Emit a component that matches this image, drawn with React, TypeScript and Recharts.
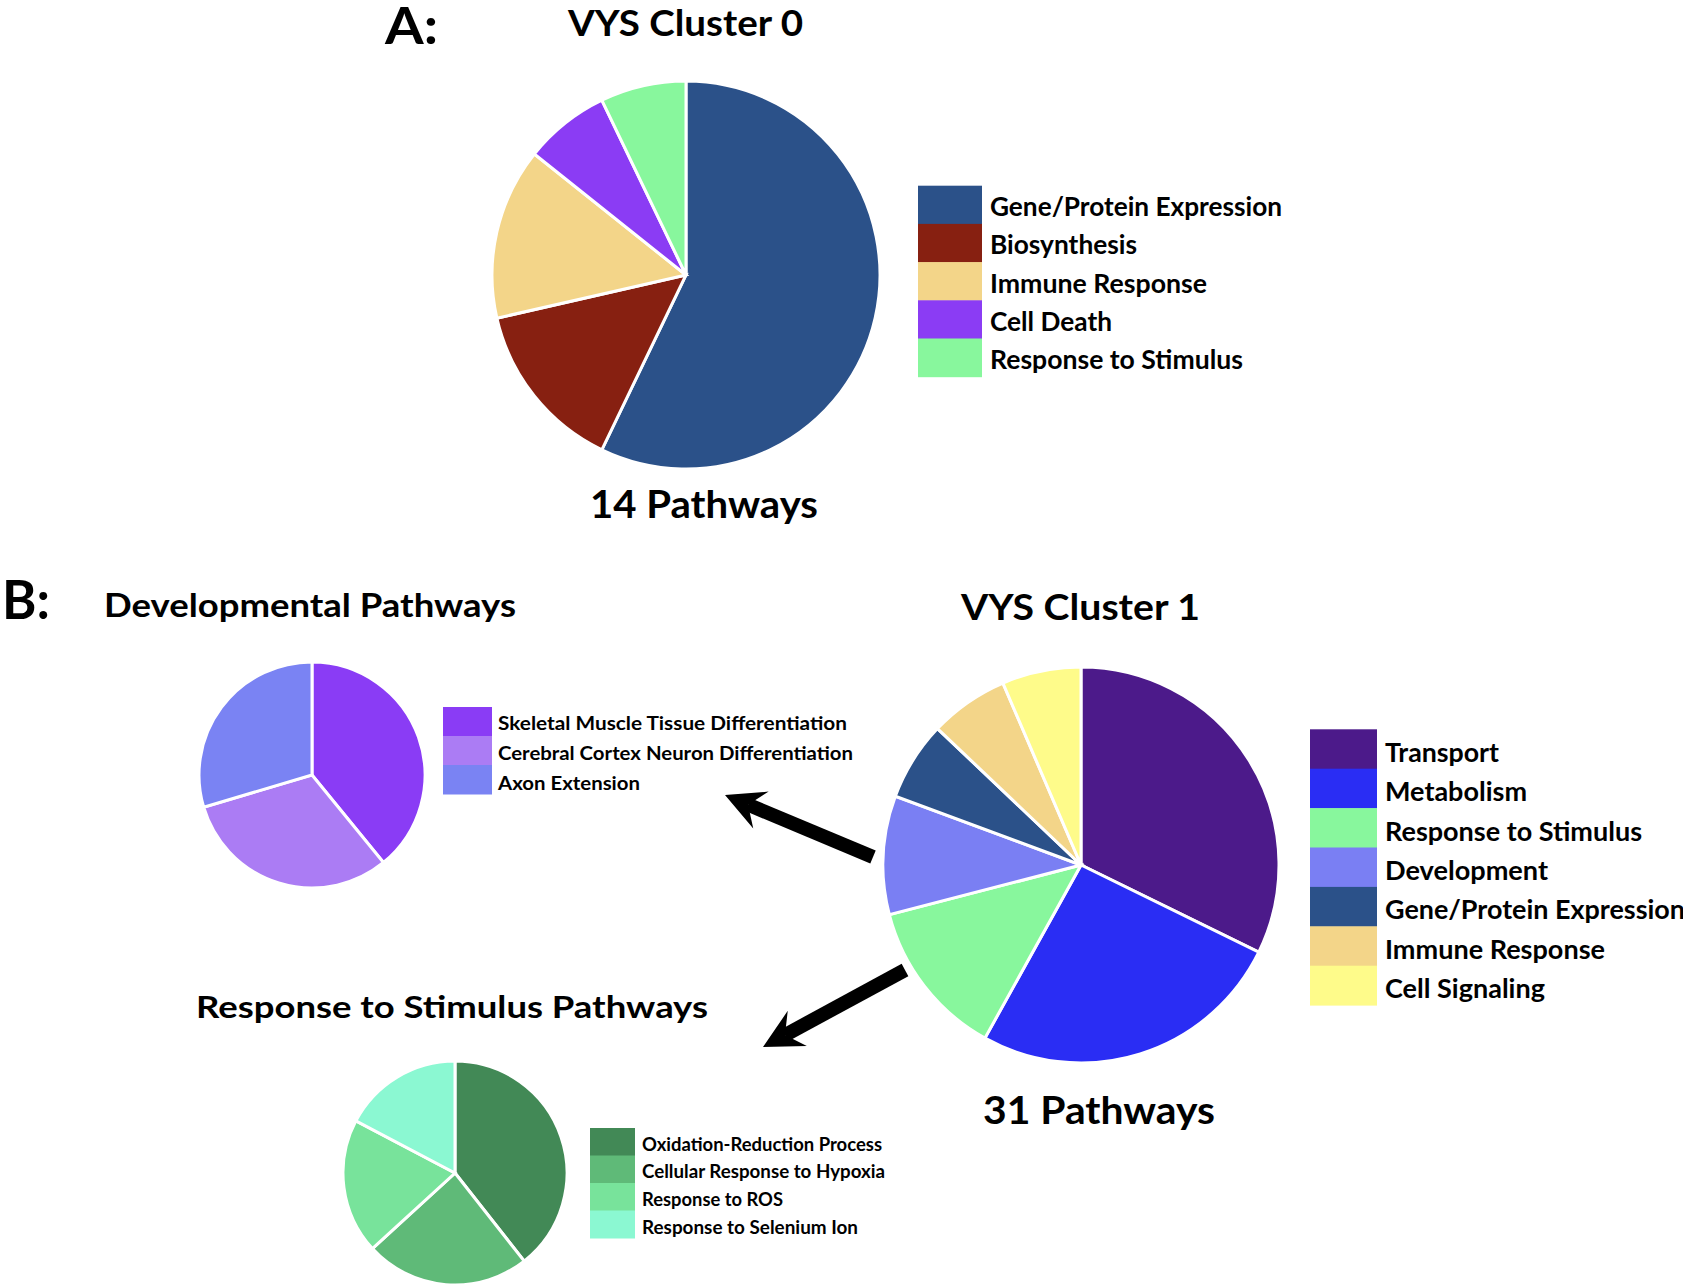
import { PieChart, Pie, Cell } from 'recharts';

// --- data ---
const clusterZeroCategories = [
  'Gene/Protein Expression',
  'Biosynthesis',
  'Immune Response',
  'Cell Death',
  'Response to Stimulus',
];
const clusterZeroCounts = [8, 2, 2, 1, 1];

const clusterOneCategories = [
  'Transport',
  'Metabolism',
  'Response to Stimulus',
  'Development',
  'Gene/Protein Expression',
  'Immune Response',
  'Cell Signaling',
];
const clusterOneCounts = [10, 8, 4, 3, 2, 2, 2];

const devCategories = [
  'Skeletal Muscle Tissue Differentiation',
  'Cerebral Cortex Neuron Differentiation',
  'Axon Extension',
];
const devShares = [39.1, 31.3, 29.6];

const stimulusCategories = [
  'Oxidation-Reduction Process',
  'Cellular Response to Hypoxia',
  'Response to ROS',
  'Response to Selenium Ion',
];
const stimulusShares = [39.4, 23.8, 19.5, 17.3];

// --- colours ---
const clusterZeroColors = ['#2B5189', '#872011', '#F3D589', '#8B3CF4', '#88F79D'];
const clusterOneColors = ['#4C1A8A', '#2A2DF4', '#88F79D', '#7A7FF3', '#2B5189', '#F3D589', '#FEFB8A'];
const devColors = ['#8A3CF5', '#AB7CF4', '#7A83F3'];
const stimulusColors = ['#428956', '#5FBA78', '#78E39B', '#8BF8D2'];

const FONT = "Lato, 'Open Sans', sans-serif";

const toRows = (names: string[], values: number[]) =>
  names.map((name, i) => ({ name, value: values[i] }));

type PieBoxProps = {
  left: number;
  top: number;
  size: number;
  radius: number;
  names: string[];
  values: number[];
  colors: string[];
};

function PieBox({ left, top, size, radius, names, values, colors }: PieBoxProps) {
  const data = toRows(names, values);
  return (
    <div style={{ position: 'absolute', left, top, width: size, height: size }}>
      <PieChart width={size} height={size} margin={{ top: 0, right: 0, bottom: 0, left: 0 }}>
        <Pie
          data={data}
          dataKey="value"
          nameKey="name"
          cx={size / 2}
          cy={size / 2}
          outerRadius={radius}
          startAngle={90}
          endAngle={-270}
          stroke="#ffffff"
          strokeWidth={3}
          isAnimationActive={false}
        >
          {data.map((d, i) => (
            <Cell key={d.name} fill={colors[i]} />
          ))}
        </Pie>
      </PieChart>
    </div>
  );
}

type Label = { x: number; y: number; size: number; width: number; text: string };

function Txt({ x, y, size, width, text }: Label) {
  return (
    <text
      x={x}
      y={y}
      fontSize={size}
      fontWeight={700}
      fontFamily={FONT}
      fill="#000"
      textLength={width}
      lengthAdjust="spacingAndGlyphs"
    >
      {text}
    </text>
  );
}

type LegendProps = {
  names: string[];
  colors: string[];
  swatchX: number;
  swatchW: number;
  top: number;
  rowH: number;
  textX: number;
  baseline: number;
  textStep: number;
  fontSize: number;
  widths: number[];
};

function BlockLegend(p: LegendProps) {
  return (
    <g>
      {p.names.map((name, i) => (
        <g key={name}>
          <rect x={p.swatchX} y={p.top + i * p.rowH} width={p.swatchW} height={p.rowH + 0.5} fill={p.colors[i]} />
          <Txt x={p.textX} y={p.baseline + i * p.textStep} size={p.fontSize} width={p.widths[i]} text={name} />
        </g>
      ))}
    </g>
  );
}

function Arrow({ tail, tip }: { tail: [number, number]; tip: [number, number] }) {
  const dx = tip[0] - tail[0];
  const dy = tip[1] - tail[1];
  const len = Math.hypot(dx, dy);
  const ux = dx / len;
  const uy = dy / len;
  const nx = -uy;
  const ny = ux;
  const headLen = 34;
  const half = 20;
  const base: [number, number] = [tip[0] - ux * headLen, tip[1] - uy * headLen];
  const notch: [number, number] = [tip[0] - ux * (headLen - 9), tip[1] - uy * (headLen - 9)];
  const pts = [
    tip,
    [base[0] + nx * half - ux * 5, base[1] + ny * half - uy * 5],
    notch,
    [base[0] - nx * half - ux * 5, base[1] - ny * half - uy * 5],
  ]
    .map((p) => p.join(','))
    .join(' ');
  return (
    <g>
      <line x1={tail[0]} y1={tail[1]} x2={notch[0]} y2={notch[1]} stroke="#000" strokeWidth={14} />
      <polygon points={pts} fill="#000" />
    </g>
  );
}

export default function App() {
  return (
    <div
      style={{
        position: 'absolute',
        left: 0,
        top: 0,
        width: 1683,
        height: 1288,
        background: '#fff',
        overflow: 'hidden',
      }}
    >
      <PieBox left={486} top={75} size={400} radius={194} names={clusterZeroCategories} values={clusterZeroCounts} colors={clusterZeroColors} />
      <PieBox left={879} top={663} size={404} radius={198} names={clusterOneCategories} values={clusterOneCounts} colors={clusterOneColors} />
      <PieBox left={196} top={659} size={232} radius={113} names={devCategories} values={devShares} colors={devColors} />
      <PieBox left={340} top={1058} size={230} radius={112} names={stimulusCategories} values={stimulusShares} colors={stimulusColors} />

      <svg width={1683} height={1288} style={{ position: 'absolute', left: 0, top: 0, pointerEvents: 'none' }}>
        {/* panel letters and titles */}
        <Txt x={385} y={44} size={52} width={53} text="A:" />
        <Txt x={568} y={36} size={36} width={235} text="VYS Cluster 0" />
        <Txt x={590} y={518} size={38} width={228} text="14 Pathways" />

        <Txt x={2} y={619} size={53} width={48} text="B:" />
        <Txt x={104} y={617} size={33} width={412} text="Developmental Pathways" />
        <Txt x={961} y={620} size={36} width={239} text="VYS Cluster 1" />
        <Txt x={196} y={1018} size={31} width={512} text="Response to Stimulus Pathways" />
        <Txt x={983} y={1124} size={38} width={232} text="31 Pathways" />

        <BlockLegend
          names={clusterZeroCategories}
          colors={clusterZeroColors}
          swatchX={918}
          swatchW={64}
          top={185.7}
          rowH={38.2}
          textX={990}
          baseline={216}
          textStep={38.3}
          fontSize={27}
          widths={[292, 147, 217, 122, 253]}
        />
        <BlockLegend
          names={clusterOneCategories}
          colors={clusterOneColors}
          swatchX={1310}
          swatchW={67}
          top={729.3}
          rowH={39.4}
          textX={1385}
          baseline={761.7}
          textStep={39.4}
          fontSize={26}
          widths={[114, 142, 257, 163, 300, 220, 160]}
        />
        <BlockLegend
          names={devCategories}
          colors={devColors}
          swatchX={443}
          swatchW={49}
          top={707}
          rowH={29}
          textX={498}
          baseline={730.3}
          textStep={29.6}
          fontSize={18}
          widths={[349, 355, 142]}
        />
        <BlockLegend
          names={stimulusCategories}
          colors={stimulusColors}
          swatchX={590}
          swatchW={45}
          top={1128}
          rowH={27.5}
          textX={642}
          baseline={1150.5}
          textStep={27.8}
          fontSize={18}
          widths={[240, 243, 141, 216]}
        />

        <Arrow tail={[873, 857]} tip={[725, 795]} />
        <Arrow tail={[905, 970]} tip={[763, 1047]} />
      </svg>
    </div>
  );
}
